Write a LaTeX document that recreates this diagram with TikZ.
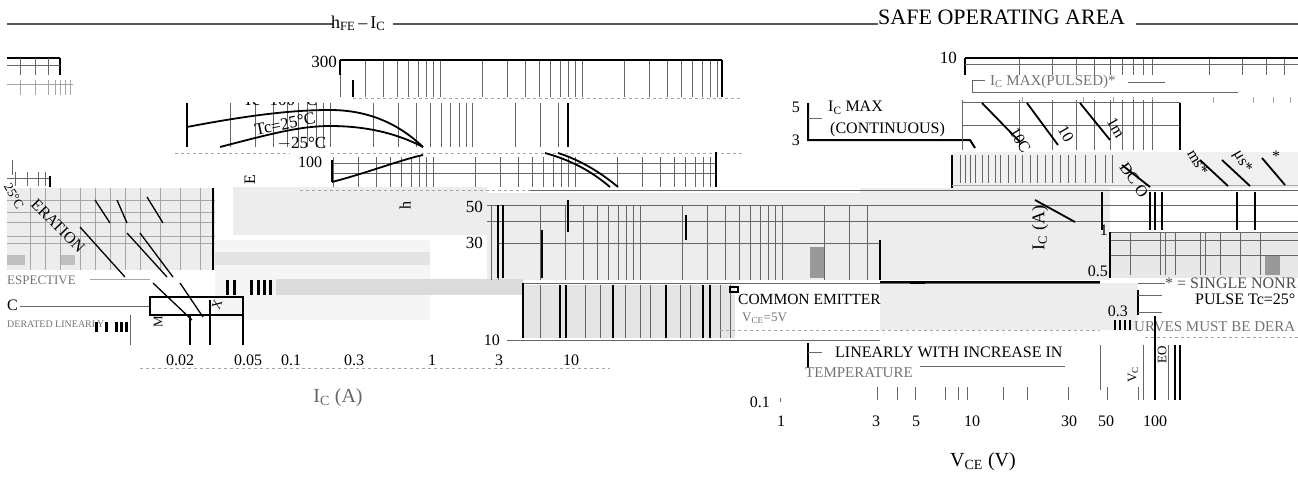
\documentclass[tikz,border=0pt]{standalone}
\usepackage{fontspec}
\setmainfont{Liberation Serif}
\begin{document}
\begin{tikzpicture}[x=1pt,y=-1pt,
  lbl/.style={inner sep=0pt,font=\fontsize{16}{18}\selectfont},
  slbl/.style={inner sep=0pt,font=\fontsize{13}{14}\selectfont},
  glt/.style={inner sep=0pt,font=\fontsize{13}{14}\selectfont,text=black!55},
  grid/.style={draw=black!60,line width=0.7pt},
  fgrid/.style={draw=black!35,line width=0.6pt},
  heavy/.style={draw=black,line width=2pt},
  med/.style={draw=black,line width=1.3pt},
  curve/.style={draw=black,line width=1.8pt},
  band/.style={fill=black!7,draw=none},
  dband/.style={fill=black!14,draw=none}]
\useasboundingbox (0,0) rectangle (1298,477);
% ---------- background glitch bands ----------
\fill[band] (233,187) rectangle (487,235);
\fill[band] (487,193) rectangle (880,280);
\fill[band] (860,188) rectangle (1110,280);
\fill[band] (880,283) rectangle (1138,330);
\fill[band] (7,188) rectangle (215,270);
\fill[fill=black!4] (215,240) rectangle (430,320);
\fill[fill=black!11] (215,252) rectangle (430,265);
\fill[dband] (276,279) rectangle (523,295);
\fill[fill=black!10] (523,285) rectangle (735,338);
\fill[fill=black!9] (1110,232) rectangle (1298,278);
\fill[fill=black!6] (952,152) rectangle (1298,188);
\fill[fill=black!40] (810,247) rectangle (825,278);
\fill[fill=black!40] (1265,255) rectangle (1280,275);
\fill[fill=black!25] (7,255) rectangle (25,265);
\fill[fill=black!25] (60,255) rectangle (75,265);
% ---------- top rule and titles ----------
\draw[draw=black!65,line width=1.6pt] (7,24) -- (333,24);
\draw[draw=black!65,line width=1.6pt] (393,24) -- (878,24);
\draw[draw=black!65,line width=1.6pt] (1136,24) -- (1298,24);
\node[lbl,anchor=base west,font=\fontsize{18}{20}\selectfont] (t1) at (331,28) {h\textsubscript{FE}\,--\,I\textsubscript{C}};
\node[lbl,anchor=base west,font=\fontsize{22}{24}\selectfont] (t2) at (878,24) {SAFE OPERATING AREA};
% ---------- left fragments ----------
\draw[heavy] (7,58) -- (60,58);
\draw[heavy] (60,58) -- (60,75);
\draw[grid] (7,65) -- (60,65);
\foreach \x in {20,35,48} \draw[grid] (\x,58) -- (\x,75);
\draw[fgrid] (7,84) -- (73,84);
\foreach \x in {20,35,48,55,60,65,70} \draw[fgrid] (\x,80) -- (\x,95);
\draw[grid] (7,178) -- (50,178);
\foreach \x in {15,27,38,45} \draw[grid] (\x,172) -- (\x,186);
\draw[heavy] (50,176) -- (50,187);
\draw[grid] (12,160) -- (12,175);
\foreach \y in {200,212,222,236,243} \draw[fgrid] (7,\y) -- (215,\y);
\foreach \x in {30,45,60,80,95,110,125,140,160,180,200,212} \draw[fgrid] (\x,188) -- (\x,270);
\draw[med] (80,227) -- (125,277);
\draw[med] (95,200) -- (110,223);
\draw[med] (117,200) -- (127,223);
\draw[med] (147,197) -- (163,223);
\draw[med] (127,233) -- (167,277);
\draw[med] (140,233) -- (173,277);
\draw[med] (153,283) -- (192,320);
\draw[med] (180,283) -- (203,317);
\draw[med] (213,188) -- (213,270);
\node[lbl,rotate=-45] (op) at (58,226) {ERATION};
\node[slbl,rotate=-60] (t25) at (14,196) {25°C};
\node[glt,anchor=west] (resp) at (7,280) {ESPECTIVE};
\draw[fgrid] (90,279) -- (150,279);
\node[lbl,anchor=west] (cdeg) at (7,305) {C};
\draw[grid] (20,306) -- (150,306);
\node[glt,anchor=west,font=\fontsize{10}{10}\selectfont] (g1) at (7,324) {DERATED LINEARLY};
\foreach \x in {95,105,115,120,125} \fill (\x,322) rectangle ++(3,10);
\foreach \x in {226,233,250,257,263,269} \fill (\x,280) rectangle ++(3,15);
\draw[med] (150,297) rectangle (243,315);
\node[slbl,rotate=70] (xx) at (217,305) {X};
\node[slbl,rotate=90] (mm) at (158,322) {M};
\draw[heavy] (190,315) -- (190,345);
\draw[med] (210,300) -- (210,345);
\draw[heavy] (243,296) -- (243,345);
\draw[grid] (130,315) -- (130,345);
% ---------- hFE graph: top band ----------
\begin{scope}
\clip (340,58) rectangle (722,97);
\foreach \d in {298,440,582} \foreach \m in {1,...,9}
  \draw[grid] ({\d+142*log10(\m)},60) -- ++(0,37);
\end{scope}
\draw[heavy] (340,60) -- (722,60);
\draw[heavy] (340,60) -- (340,75);
\draw[med] (722,60) -- (722,97);
\draw[heavy] (353,80) -- (353,97);
\draw[fgrid,dashed] (353,98) -- (742,98);
\node[lbl,anchor=east,font=\fontsize{17}{18}\selectfont] (y300) at (337,62) {300};
% band 2
\begin{scope}
\clip (187,103) rectangle (568,147);
\foreach \d in {187,330,472} \foreach \m in {1,...,9}
  \draw[grid] ({\d+143*log10(\m)},103) -- ++(0,44);
\end{scope}
\draw[heavy] (187,103) -- (187,147);
\draw[heavy] (568,103) -- (568,147);
\node[lbl,anchor=west,font=\fontsize{17}{18}\selectfont] (tc100) at (243,100) {Tc=100 °C};
\fill[white] (230,85) rectangle (330,101.5);
\draw[curve] (187,127) .. controls (260,113) and (300,110) .. (330,110) .. controls (370,110) and (400,125) .. (423,147);
\draw[curve] (220,147) .. controls (270,134) and (300,126) .. (330,126) .. controls (370,126) and (400,135) .. (423,147);
\node[lbl,rotate=12,font=\fontsize{17}{18}\selectfont] (tc25) at (285,124) {Tc=25°C};
\node[lbl,font=\fontsize{17}{18}\selectfont] (tcm25) at (302,144) {$-$25°C};
% band 3
\draw[fgrid,dashed] (175,153) -- (742,153);
\begin{scope}
\clip (332,155) rectangle (716,187);
\foreach \d in {291,433,575} \foreach \m in {1,...,9}
  \draw[grid] ({\d+142*log10(\m)},157) -- ++(0,30);
\end{scope}
\draw[grid] (332,163) -- (716,163);
\draw[grid] (332,173) -- (716,173);
\draw[heavy] (332,160) -- (332,182);
\draw[med] (716,152) -- (716,187);
\node[lbl] (y100) at (310,162) {100};
\fill[white] (290,150) rectangle (330,155);
\draw[curve] (332,182) .. controls (370,172) and (400,160) .. (423,155);
\draw[curve] (545,153) .. controls (570,160) and (590,170) .. (610,187);
\draw[curve] (558,153) .. controls (580,160) and (600,172) .. (618,187);
\node[lbl,rotate=90] (ee) at (250,180) {E};
\node[lbl,rotate=90] (hh) at (405,205) {h};
% band 4
\draw[fgrid,dashed] (300,190) -- (1298,190);
\draw[grid] (530,190) -- (1298,190);
% band 5-6
\draw[grid] (487,205) -- (1298,205);
\draw[grid] (487,221) -- (1298,221);
\begin{scope}
\clip (487,205) rectangle (880,280);
\foreach \d in {356,498,640,782} \foreach \m in {1,...,9}
  \draw[grid] ({\d+142*log10(\m)},205) -- ++(0,75);
\end{scope}
\draw[grid] (497,243) -- (880,243);
\draw[heavy] (498,205) -- (498,278);
\draw[med] (503,205) -- (503,278);
\draw[heavy] (568,200) -- (568,232);
\draw[heavy] (542,230) -- (542,278);
\draw[heavy] (686,215) -- (686,240);
\draw[heavy] (880,240) -- (880,280);
\draw[curve] (1035,200) -- (1075,222);
\node[lbl,anchor=east,font=\fontsize{17}{18}\selectfont] (y50) at (483,207) {50};
\node[lbl,anchor=east,font=\fontsize{17}{18}\selectfont] (y30) at (483,243) {30};
% band 7
\draw[grid] (523,283) -- (1100,283);
\draw[heavy] (523,283) -- (523,338);
\foreach \x in {560,566,613,666,703,710} \draw[heavy] (\x,285) -- (\x,338);
\foreach \x in {540,585,600,625,640,650,680,690,720,730} \draw[grid] (\x,285) -- (\x,338);
\draw[heavy] (730,287) rectangle (738,292);
\draw[grid] (507,340) -- (880,340);
\node[lbl,anchor=east] (y10) at (500,340) {10};
\node[slbl,anchor=west,font=\fontsize{15.5}{16}\selectfont] (ce) at (738,299) {COMMON EMITTER};
\node[glt,anchor=west] (vce) at (742,318) {V\textsubscript{CE}=5V};
\draw[fgrid,dashed] (720,330) -- (1100,330);
% hFE x labels
\draw[fgrid,dashed] (140,368) -- (610,368);
\node[lbl] (x002) at (180,360) {0.02};
\node[lbl] (x005) at (248,360) {0.05};
\node[lbl] (x01) at (291,360) {0.1};
\node[lbl] (x03) at (354,360) {0.3};
\node[lbl] (x1) at (432,360) {1};
\node[lbl] (x3) at (499,360) {3};
\node[lbl] (x10) at (571,360) {10};
\node[lbl,text=black!60,font=\fontsize{20}{22}\selectfont] (xlab) at (338,398) {I\textsubscript{C} (A)};
% ---------- SOA ----------
\node[lbl,anchor=east,font=\fontsize{17}{18}\selectfont] (s10) at (957,58) {10};
\begin{scope}
\clip (965,58) rectangle (1298,75);
\foreach \d in {772,962,1152} \foreach \m in {1,...,9}
  \draw[grid] ({\d+190*log10(\m)},58) -- ++(0,17);
\end{scope}
\draw[heavy] (965,58) -- (1298,58);
\draw[heavy] (965,58) -- (965,75);
\draw[grid] (965,64) -- (1298,64);
\draw[grid] (972,80) -- (972,92) -- (1238,92);
\draw[grid] (972,80) -- (985,80);
\draw[grid] (1128,82) -- (1165,82);
\node[glt,anchor=west,font=\fontsize{15}{16}\selectfont] (pulsed) at (990,82) {I\textsubscript{C} MAX(PULSED)*};
\foreach \x in {1022,1083,1113,1133,1152,1213,1253,1273,1290} \draw[fgrid] (\x,97) -- (\x,103);
\node[lbl,anchor=east] (s5) at (800,107) {5};
\node[lbl,anchor=east] (s3) at (800,140) {3};
\draw[heavy] (808,103) -- (808,140) -- (970,140) -- (975,148);
\draw[grid] (808,118) -- (822,118);
\node[lbl,anchor=west] (icm) at (828,108) {I\textsubscript{C} MAX};
\node[lbl,anchor=west] (cont) at (830,130) {(CONTINUOUS)};
\begin{scope}
\clip (962,100) rectangle (1180,150);
\foreach \d in {772,962,1152} \foreach \m in {1,...,9}
  \draw[grid] ({\d+190*log10(\m)},100) -- ++(0,50);
\end{scope}
\draw[grid] (962,102) -- (1180,102);
\draw[grid] (962,125) -- (1180,125);
\draw[heavy] (1180,103) -- (1180,150);
\draw[curve] (982,103) -- (1020,142);
\draw[curve] (1027,103) -- (1058,145);
\draw[curve] (1080,103) -- (1110,140);
\node[lbl,rotate=-60] (l100) at (1020,140) {10C};
\node[lbl,rotate=-60] (l10) at (1066,134) {10};
\node[lbl,rotate=-60] (l1m) at (1116,128) {1m};
\draw[heavy] (952,155) -- (952,188);
\foreach \x in {960,965,970,975,982,988,995,1000,1008,1015,1022,1030,1037,1045,1052,1060,1068,1075,1085,1095,1105,1112}
  \draw[grid] (\x,155) -- (\x,183);
\draw[fgrid] (952,185) -- (1298,185);
\draw[curve] (1122,165) -- (1150,187);
\draw[curve] (1200,160) -- (1228,186);
\draw[curve] (1222,160) -- (1250,186);
\draw[curve] (1262,158) -- (1285,185);
\node[lbl,rotate=-55] (ldc) at (1134,180) {DC O};
\node[lbl,rotate=-60] (lms) at (1198,162) {ms*};
\node[lbl,rotate=-60] (lus) at (1242,162) {μs*};
\node[lbl] (lst) at (1276,156) {*};
% SOA middle
\foreach \x in {1102,1150,1155,1162,1237,1255} \draw[heavy] (\x,192) -- (\x,230);
\node[lbl,rotate=90,font=\fontsize{18}{20}\selectfont] (ylab) at (1040,228) {I\textsubscript{C} (A)};
\node[lbl,anchor=east] (s1) at (1108,230) {1};
\draw[grid] (1110,232) -- (1298,232);
\draw[grid] (1110,240) -- (1298,240);
\draw[grid] (1110,255) -- (1298,255);
\draw[heavy] (1110,232) -- (1110,278);
\foreach \x in {1130,1160,1165,1175,1200,1205,1220,1240,1260} \draw[grid] (\x,232) -- (\x,275);
\draw[med] (880,282) -- (1100,282);
\fill (910,281) rectangle (925,284);
\node[lbl,anchor=east] (s05) at (1108,271) {0.5};
\draw[grid] (1138,283) -- (1165,283);
\draw[med] (1138,290) -- (1138,315);
\draw[grid] (1138,295) -- (1162,295);
\draw[grid] (1138,312) -- (1162,312);
\node[lbl,anchor=west,text=black!70] (single) at (1165,283) {* = SINGLE NONR};
\node[lbl,anchor=west] (pulse) at (1195,299) {PULSE Tc=25°};
\node[lbl,anchor=east] (s03) at (1128,311) {0.3};
\foreach \x in {1115,1120,1125,1130} \draw[med] (\x,320) -- (\x,330);
\node[glt,anchor=west,font=\fontsize{15}{16}\selectfont] (curves) at (1134,327) {URVES MUST BE DERA};
\draw[fgrid,dashed] (1145,337) -- (1298,337);
% SOA bottom
\node[lbl,anchor=west] (lin) at (835,352) {LINEARLY WITH INCREASE IN};
\draw[med] (808,343) -- (808,368);
\draw[grid] (808,352) -- (822,352);
\draw[grid] (920,366) -- (1065,366);
\node[glt,anchor=west,font=\fontsize{15}{16}\selectfont] (temp) at (805,373) {TEMPERATURE};
\foreach \x in {877,897,915,945,958,967,1003,1027,1068,1107,1138}
  \draw[grid] (\x,387) -- (\x,400);
\draw[grid] (1100,345) -- (1100,390);
\draw[grid] (1143,345) -- (1143,400);
\draw[heavy] (1155,316) -- (1155,400);
\draw[grid] (1168,345) -- (1168,400);
\draw[med] (1175,345) -- (1175,400);
\draw[heavy] (1180,345) -- (1180,400);
\node[slbl,rotate=90] (vc) at (1133,375) {V\textsubscript{C}};
\node[slbl,rotate=90] (eo) at (1162,355) {EO};
\node[lbl,anchor=east] (s01) at (770,402) {0.1};
\draw[grid] (780,398) -- (780,402);
\node[lbl] (v1) at (781,421) {1};
\node[lbl] (v3) at (876,421) {3};
\node[lbl] (v5) at (916,421) {5};
\node[lbl] (v10) at (972,421) {10};
\node[lbl] (v30) at (1069,421) {30};
\node[lbl] (v50) at (1106,421) {50};
\node[lbl] (v100) at (1155,421) {100};
\node[lbl,font=\fontsize{20}{22}\selectfont] (vlab) at (983,462) {V\textsubscript{CE} (V)};
\end{tikzpicture}
\end{document}
